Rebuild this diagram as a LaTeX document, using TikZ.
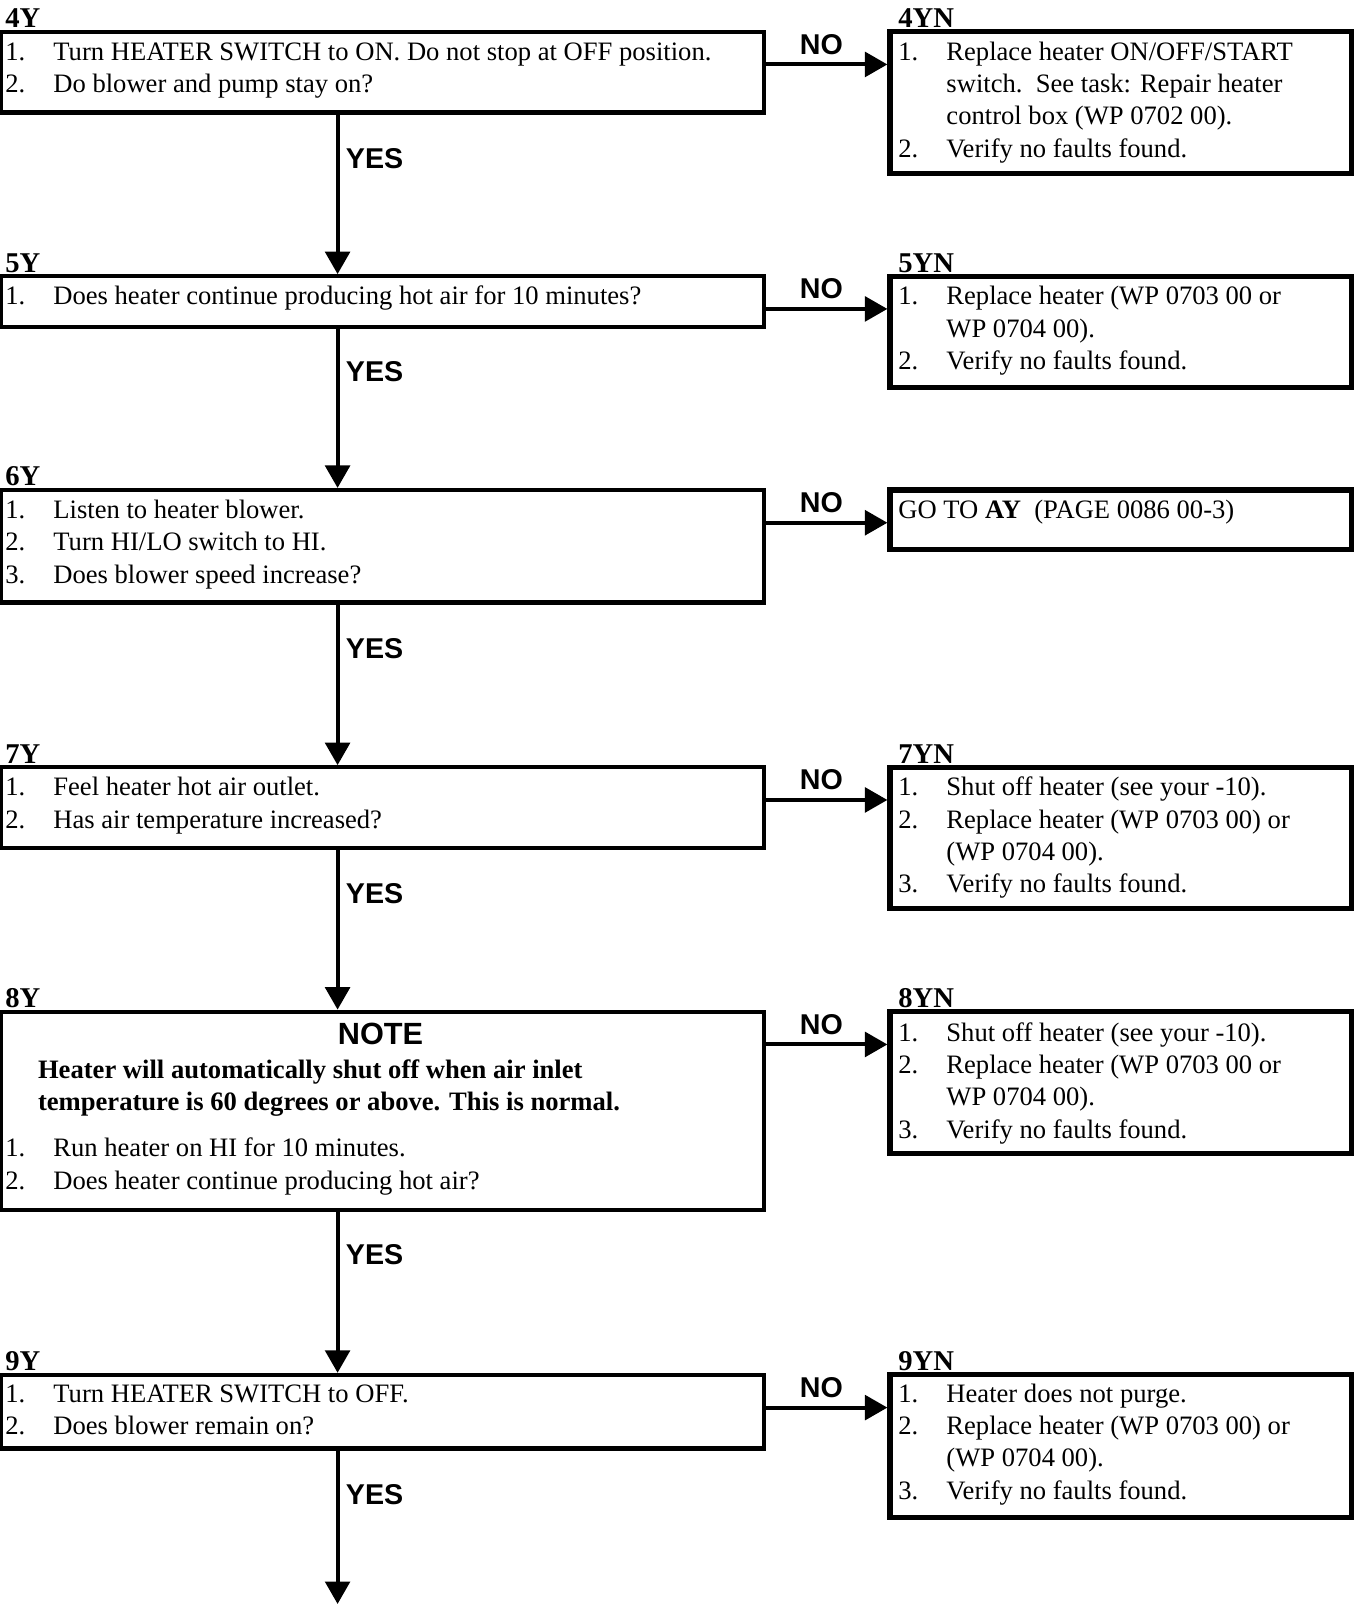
\documentclass[tikz,border=0pt]{standalone}
\usepackage{fontspec}
\setmainfont{Liberation Serif}
\newfontfamily\hv{Liberation Sans}
\usetikzlibrary{arrows.meta}
\newcommand{\nb}[1]{\makebox[47pt][l]{#1}}
\newcommand{\ind}{\hspace*{47pt}}
\newcommand{\lst}[1]{\begin{tabular}[t]{@{}l@{}}#1\end{tabular}}
\begin{document}
\begin{tikzpicture}[x=1pt,y=-1pt,
 lbox/.style={draw, line width=4pt, anchor=north west, outer sep=0pt, inner sep=0pt, minimum width=746.5pt},
 rbox/.style={draw, line width=5pt, anchor=north west, outer sep=0pt, inner sep=0pt, minimum width=451pt},
 txt/.style={inner sep=0pt, anchor=base west, font=\fontsize{26}{31.5}\selectfont},
 btxt/.style={txt, font=\fontsize{26}{31.5}\selectfont\bfseries},
 lbl/.style={inner sep=0pt, anchor=base west, font=\fontsize{28}{30}\selectfont\bfseries},
 yn/.style={inner sep=0pt, anchor=base west, font=\hv\fontsize{28}{30}\selectfont\bfseries},
 arr/.style={line width=4pt, -{Triangle[length=22pt,width=24pt]}, shorten >=2pt}]
\useasboundingbox (0,0) rectangle (1325,1568);

% ---------- left boxes ----------
\node[lbox, minimum height=79pt]  (b4y) at (0.5,31) {};
\node[lbox, minimum height=50pt]  (b5y) at (0.5,270) {};
\node[lbox, minimum height=110pt] (b6y) at (0.5,479) {};
\node[lbox, minimum height=79pt]  (b7y) at (0.5,750) {};
\node[lbox, minimum height=194pt] (b8y) at (0.5,989) {};
\node[lbox, minimum height=72pt]  (b9y) at (0.5,1344) {};

% ---------- right boxes ----------
\node[rbox, minimum height=139pt] (b4yn) at (870,31) {};
\node[rbox, minimum height=109pt] (b5yn) at (870,270) {};
\node[rbox, minimum height=58pt]  (bgo)  at (870,479) {};
\node[rbox, minimum height=138pt] (b7yn) at (870,750) {};
\node[rbox, minimum height=139pt] (b8yn) at (870,989) {};
\node[rbox, minimum height=139pt] (b9yn) at (870,1344) {};

% ---------- labels ----------
\node[lbl] (l4y)  at (5,27)    {4Y};
\node[lbl] (l5y)  at (5,266)   {5Y};
\node[lbl] (l6y)  at (5,475)   {6Y};
\node[lbl] (l7y)  at (5,746)   {7Y};
\node[lbl] (l8y)  at (5,985)   {8Y};
\node[lbl] (l9y)  at (5,1340)  {9Y};
\node[lbl] (l4yn) at (878,27)   {4YN};
\node[lbl] (l5yn) at (878,266)  {5YN};
\node[lbl] (l7yn) at (878,746)  {7YN};
\node[lbl] (l8yn) at (878,985)  {8YN};
\node[lbl] (l9yn) at (878,1340) {9YN};

% ---------- left texts ----------
\node[txt] (t4y) at (5,59) {\lst{\nb{1.}Turn HEATER SWITCH to ON. Do not stop at OFF position.\\ \nb{2.}Do blower and pump stay on?}};
\node[txt] (t5y) at (5,298) {\lst{\nb{1.}Does heater continue producing hot air for 10 minutes?}};
\node[txt] (t6y) at (5,507) {\lst{\nb{1.}Listen to heater blower.\\ \nb{2.}Turn HI/LO switch to HI.\\ \nb{3.}Does blower speed increase?}};
\node[txt] (t7y) at (5,778) {\lst{\nb{1.}Feel heater hot air outlet.\\ \nb{2.}Has air temperature increased?}};
\node[yn, anchor=base, font=\hv\fontsize{30}{32}\selectfont\bfseries] (note) at (372,1021) {NOTE};
\node[btxt] (nt) at (37,1054) {\lst{Heater will automatically shut off when air inlet\\ temperature is 60 degrees or above. This is normal.}};
\node[txt] (t8y) at (5,1131) {\lst{\nb{1.}Run heater on HI for 10 minutes.\\ \nb{2.}Does heater continue producing hot air?}};
\node[txt] (t9y) at (5,1371) {\lst{\nb{1.}Turn HEATER SWITCH to OFF.\\ \nb{2.}Does blower remain on?}};

% ---------- right texts ----------
\node[txt] (t4yn) at (878,59) {\lst{\nb{1.}Replace heater ON/OFF/START\\ \ind switch.\ \ See task: Repair heater\\ \ind control box (WP 0702 00).\\ \nb{2.}Verify no faults found.}};
\node[txt] (t5yn) at (878,298) {\lst{\nb{1.}Replace heater (WP 0703 00 or\\ \ind WP 0704 00).\\ \nb{2.}Verify no faults found.}};
\node[txt] (tgo) at (878,507) {GO TO \textbf{AY}\ \ (PAGE 0086 00-3)};
\node[txt] (t7yn) at (878,778) {\lst{\nb{1.}Shut off heater (see your -10).\\ \nb{2.}Replace heater (WP 0703 00) or\\ \ind (WP 0704 00).\\ \nb{3.}Verify no faults found.}};
\node[txt] (t8yn) at (878,1018) {\lst{\nb{1.}Shut off heater (see your -10).\\ \nb{2.}Replace heater (WP 0703 00 or\\ \ind WP 0704 00).\\ \nb{3.}Verify no faults found.}};
\node[txt] (t9yn) at (878,1371) {\lst{\nb{1.}Heater does not purge.\\ \nb{2.}Replace heater (WP 0703 00) or\\ \ind (WP 0704 00).\\ \nb{3.}Verify no faults found.}};

% ---------- YES connectors ----------
\coordinate (end) at (330,1568);
\draw[arr] ([xshift=329.5pt]b4y.south west) -- ([xshift=329.5pt]b5y.north west);
\draw[arr] ([xshift=329.5pt]b5y.south west) -- ([xshift=329.5pt]b6y.north west);
\draw[arr] ([xshift=329.5pt]b6y.south west) -- ([xshift=329.5pt]b7y.north west);
\draw[arr] ([xshift=329.5pt]b7y.south west) -- ([xshift=329.5pt]b8y.north west);
\draw[arr] ([xshift=329.5pt]b8y.south west) -- ([xshift=329.5pt]b9y.north west);
\draw[arr, shorten >=0pt] ([xshift=329.5pt]b9y.south west) -- (end);

\node[yn] (y4) at (338,165)  {YES};
\node[yn] (y5) at (338,373)  {YES};
\node[yn] (y6) at (338,644)  {YES};
\node[yn] (y7) at (338,883)  {YES};
\node[yn] (y8) at (338,1236) {YES};
\node[yn] (y9) at (338,1471) {YES};

% ---------- NO connectors ----------
\draw[arr, shorten >=2.5pt] ([yshift=-32pt]b4y.north east) -- ([yshift=-32pt]b4yn.north west);
\draw[arr, shorten >=2.5pt] ([yshift=-32pt]b5y.north east) -- ([yshift=-32pt]b5yn.north west);
\draw[arr, shorten >=2.5pt] ([yshift=-32pt]b6y.north east) -- ([yshift=-32pt]bgo.north west);
\draw[arr, shorten >=2.5pt] ([yshift=-32pt]b7y.north east) -- ([yshift=-32pt]b7yn.north west);
\draw[arr, shorten >=2.5pt] ([yshift=-32pt]b8y.north east) -- ([yshift=-32pt]b8yn.north west);
\draw[arr, shorten >=2.5pt] ([yshift=-32pt]b9y.north east) -- ([yshift=-32pt]b9yn.north west);

\node[yn, anchor=base] (n4) at (803,53)   {NO};
\node[yn, anchor=base] (n5) at (803,292)  {NO};
\node[yn, anchor=base] (n6) at (803,501)  {NO};
\node[yn, anchor=base] (n7) at (803,772)  {NO};
\node[yn, anchor=base] (n8) at (803,1011) {NO};
\node[yn, anchor=base] (n9) at (803,1366) {NO};
\end{tikzpicture}
\end{document}
